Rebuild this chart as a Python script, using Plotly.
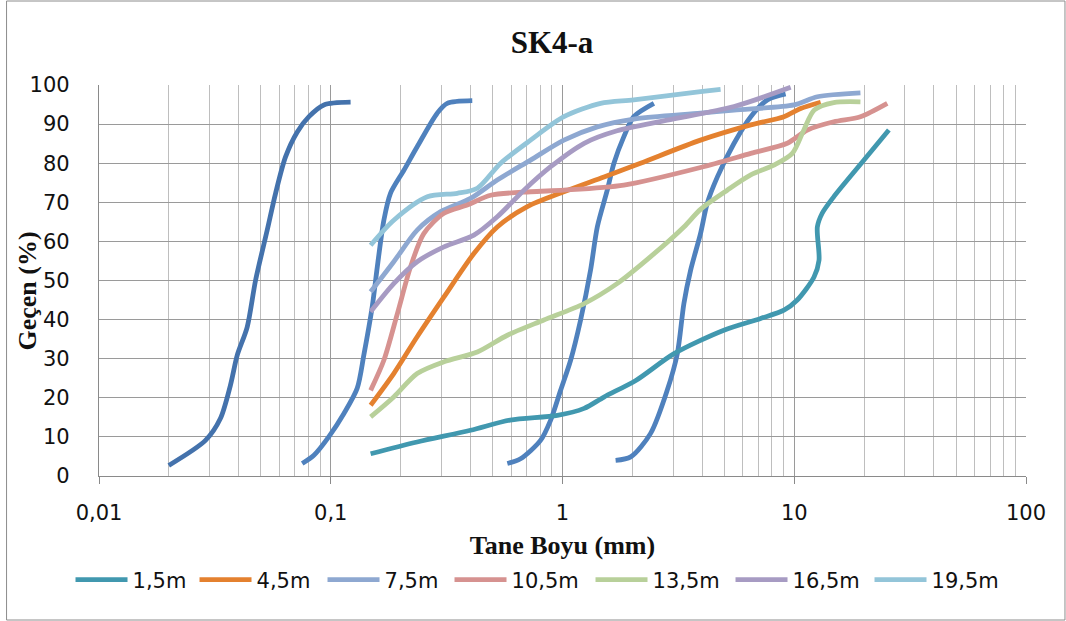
import plotly.graph_objects as go

# ---- data ----
blue_a_x = [0.020, 0.0288, 0.0334, 0.0369, 0.0395, 0.0436, 0.0474, 0.0532, 0.0578, 0.0638, 0.0717, 0.0805, 0.0934, 0.1218]
blue_a_y = [2.7, 9.1, 14.7, 23.2, 30.9, 38.1, 50.1, 62.9, 72.3, 81.6, 88.0, 91.9, 94.9, 95.6]

blue_b_x = [0.0753, 0.0846, 0.098, 0.114, 0.130, 0.139, 0.151, 0.1588, 0.1695, 0.181, 0.2068, 0.236, 0.288, 0.318, 0.408]
blue_b_y = [3.2, 5.3, 10.0, 16.0, 22.4, 31.0, 43.3, 53.5, 65.4, 72.3, 78.2, 84.2, 92.8, 95.3, 96.0]

blue_c_x = [0.578, 0.659, 0.804, 0.889, 0.981, 1.084, 1.197, 1.322, 1.413, 1.56, 1.667, 1.84, 2.03, 2.48]
blue_c_y = [3.2, 4.4, 9.1, 14.3, 21.9, 29.6, 39.9, 52.7, 63.7, 73.1, 80.0, 86.8, 91.9, 95.3]

blue_d_x = [1.695, 1.97, 2.40, 2.83, 3.13, 3.34, 3.57, 3.94, 4.21, 4.66, 5.50, 6.49, 7.66, 9.18]
blue_d_y = [4.0, 4.9, 10.9, 21.9, 31.3, 44.1, 52.6, 62.0, 69.7, 76.5, 85.1, 91.9, 96.2, 97.7]

s15_x = [0.1486, 0.236, 0.401, 0.594, 0.95, 1.24, 1.51, 2.08, 3.03, 4.97, 7.16, 9.03, 10.3, 12.17, 12.79, 12.58, 13.2, 14.8, 20.0, 25.6]
s15_y = [5.7, 8.7, 11.7, 14.3, 15.5, 17.3, 20.2, 24.5, 31.3, 37.3, 40.3, 42.4, 45.0, 50.9, 55.2, 63.7, 67.2, 71.4, 80.8, 88.5]

s45_x = [0.1486, 0.187, 0.236, 0.308, 0.4146, 0.523, 0.705, 1.014, 1.51, 2.17, 3.94, 6.49, 9.03, 10.66, 13.0]
s45_y = [18.1, 26.2, 35.6, 45.8, 56.9, 63.7, 68.9, 72.7, 76.5, 80.0, 85.9, 89.8, 91.9, 94.0, 95.6]

s75_x = [0.1486, 0.187, 0.236, 0.298, 0.401, 0.523, 0.728, 1.014, 1.413, 2.03, 3.94, 5.5, 9.97, 12.58, 19.3]
s75_y = [47.1, 54.8, 62.9, 67.6, 71.0, 75.7, 80.8, 85.9, 89.3, 91.3, 92.8, 93.6, 94.9, 97.0, 98.0]

s105_x = [0.1486, 0.1695, 0.194, 0.221, 0.252, 0.308, 0.388, 0.4895, 0.728, 1.014, 1.84, 3.94, 6.49, 9.33, 11.4, 14.8, 19.3, 25.2]
s105_y = [21.9, 29.6, 41.6, 53.5, 62.0, 67.2, 69.3, 71.8, 72.7, 73.1, 74.4, 78.9, 82.5, 85.1, 88.5, 90.6, 91.9, 95.3]

s135_x = [0.1486, 0.187, 0.236, 0.308, 0.429, 0.578, 0.831, 1.24, 1.72, 2.40, 3.34, 3.94, 5.14, 6.49, 8.17, 9.81, 11.0, 12.2, 14.8, 19.3]
s135_y = [15.1, 20.2, 26.2, 29.2, 31.7, 36.0, 39.9, 44.1, 49.2, 56.1, 63.7, 68.2, 73.1, 77.0, 79.5, 82.5, 88.5, 93.6, 95.5, 95.7]

s165_x = [0.1486, 0.187, 0.236, 0.308, 0.4146, 0.523, 0.682, 0.889, 1.24, 1.72, 2.83, 5.5, 9.65]
s165_y = [42.0, 49.2, 54.8, 58.6, 61.6, 66.3, 73.1, 79.1, 85.1, 88.3, 91.0, 94.5, 99.4]

s195_x = [0.1486, 0.187, 0.261, 0.3516, 0.429, 0.541, 0.728, 1.014, 1.46, 2.03, 3.94, 4.81]
s195_y = [59.0, 65.4, 71.4, 72.3, 73.6, 80.0, 85.9, 91.9, 95.3, 96.2, 98.3, 98.9]

series_names = ["1,5m", "4,5m", "7,5m", "10,5m", "13,5m", "16,5m", "19,5m"]
series_x = [s15_x, s45_x, s75_x, s105_x, s135_x, s165_x, s195_x]
series_y = [s15_y, s45_y, s75_y, s105_y, s135_y, s165_y, s195_y]
series_colors = ["#4198AF", "#E4812F", "#8EA8D1", "#D69290", "#B8D09A", "#A79BC3", "#93C5D9"]
legend_widths = [57, 61, 60, 74, 73, 72, 70]

x_tick_vals = [0.01, 0.1, 1, 10, 100]
x_tick_text = ["0,01", "0,1", "1", "10", "100"]
y_tick_vals = [0, 10, 20, 30, 40, 50, 60, 70, 80, 90, 100]

title_text = "SK4-a"
x_title = "Tane Boyu (mm)"
y_title = "Geçen (%)"

# ---- figure ----
fig = go.Figure()
LW = 4.8
tick_font = dict(family="DejaVu Sans, sans-serif", size=21, color="#111111")
serif = "Liberation Serif, Times New Roman, serif"

for bx, by, col in [(blue_a_x, blue_a_y, "#4472AC"), (blue_b_x, blue_b_y, "#4F81BD"),
                    (blue_c_x, blue_c_y, "#4F81BD"), (blue_d_x, blue_d_y, "#4F81BD")]:
    fig.add_trace(go.Scatter(x=bx, y=by, mode="lines", showlegend=False, hoverinfo="skip",
                             line=dict(color=col, width=LW, shape="spline", smoothing=0.8)))

for nm, sx, sy, col, lw in zip(series_names, series_x, series_y, series_colors, legend_widths):
    fig.add_trace(go.Scatter(x=sx, y=sy, mode="lines", name=nm, legendwidth=lw,
                             line=dict(color=col, width=LW, shape="spline", smoothing=0.8)))

minor_vals = [m * 10 ** e for e in range(-2, 2) for m in range(2, 10)]

W, H = 1066, 621
L, R, T, B = 98.5, 40, 85, 145
pw, ph = W - L - R, H - T - B

fig.update_layout(
    width=W, height=H,
    margin=dict(l=L, r=R, t=T, b=B),
    paper_bgcolor="white", plot_bgcolor="white",
    title=dict(text="<b>" + title_text + "</b>", xref="container", x=552 / W, xanchor="center",
               yref="container", y=1 - 42 / H, yanchor="middle",
               font=dict(family=serif, size=31, color="#111111")),
    showlegend=True,
    legend=dict(orientation="h", x=(70 - L) / pw, xanchor="left", y=-(580 - (H - B)) / ph, yanchor="middle",
                font=tick_font, itemwidth=52, tracegroupgap=0, bgcolor="rgba(0,0,0,0)",
                itemclick=False),
    xaxis=dict(type="log", range=[-2, 2], tickmode="array", tickvals=x_tick_vals, ticktext=x_tick_text,
               showgrid=True, gridcolor="#9A9A9A", gridwidth=1.2,
               ticks="outside", ticklen=7, tickcolor="#8A8A8A", tickwidth=1.2,
               ticklabelstandoff=11,
               showline=True, linecolor="#8A8A8A", linewidth=1.2,
               tickfont=tick_font, zeroline=False,
               minor=dict(tickmode="array", tickvals=minor_vals, showgrid=True, gridcolor="#BEBEBE",
                          gridwidth=1, ticks=""),
               title=dict(text="<b>" + x_title + "</b>", standoff=11,
                          font=dict(family=serif, size=26, color="#111111"))),
    yaxis=dict(range=[0, 100], tickmode="array", tickvals=y_tick_vals,
               showgrid=True, gridcolor="#9A9A9A", gridwidth=1.2,
               ticks="", ticklabelstandoff=24,
               showline=True, linecolor="#8A8A8A", linewidth=1.2,
               tickfont=tick_font, zeroline=False),
    annotations=[dict(text="<b>" + y_title + "</b>", xref="paper", yref="paper",
                      x=(26 - L) / pw, y=(476 - 291) / ph, xanchor="center", yanchor="middle",
                      textangle=-90, showarrow=False,
                      font=dict(family=serif, size=26, color="#111111"))],
    shapes=[dict(type="rect", xref="paper", yref="paper",
                 x0=(6 - L) / pw, x1=(1065 - L) / pw,
                 y0=-(620 - (H - B)) / ph, y1=1 + (T - 1) / ph,
                 line=dict(color="#8C8C8C", width=1), fillcolor="rgba(0,0,0,0)", layer="below")],
)

fig.write_html("out.html", config={"displayModeBar": False},
               post_script="document.body.style.margin='0';document.body.style.overflow='hidden';")
